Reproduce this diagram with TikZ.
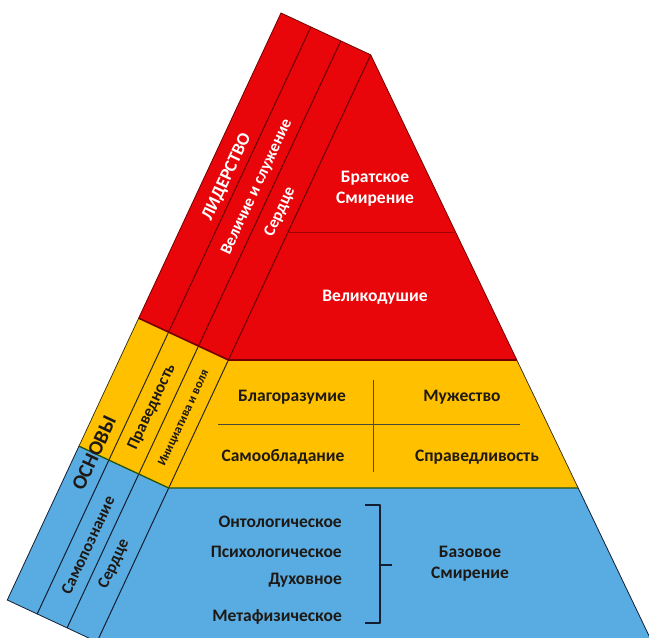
\documentclass[tikz,border=0pt]{standalone}
\usepackage{fontspec}
\setmainfont{Carlito}
\usetikzlibrary{calc}
\definecolor{pred}{RGB}{232,6,10}
\definecolor{pyel}{RGB}{255,192,0}
\definecolor{pblu}{RGB}{88,172,226}
\definecolor{dred}{RGB}{115,0,0}
\definecolor{dline}{RGB}{45,40,20}
\definecolor{dnavy}{RGB}{20,30,50}
\definecolor{txtdark}{RGB}{30,25,20}
\begin{document}
\begin{tikzpicture}[x=1pt,y=1pt,
  mtext/.style={font=\bfseries\fontsize{17.5}{21}\selectfont, inner sep=0pt, align=center},
  wtext/.style={mtext, text=white},
  ktext/.style={mtext, text=txtdark},
  stext/.style={font=\bfseries\fontsize{16.5}{19}\selectfont, inner sep=0pt, rotate=65},
  bigtext/.style={font=\bfseries\fontsize{18}{22}\selectfont, inner sep=0pt, rotate=65},
  redsep/.style={draw=dred, line width=1.1pt},
  darksep/.style={draw=dline, line width=1pt},
  quadline/.style={draw=dline!85, line width=0.9pt},
  bracketline/.style={draw=dnavy, line width=1.8pt, line join=round}]
\useasboundingbox (0,0) rectangle (649,638);
\clip (0,0) rectangle (649,638);
% key points
\coordinate (T0) at (281,625);
\coordinate (T1) at (310.91,611.05);
\coordinate (T2) at (340.82,597.10);
\coordinate (T3) at (370.73,583.15);
\coordinate (P0) at (138.67,319.85);
\coordinate (P1) at (168.58,305.90);
\coordinate (P2) at (198.49,291.95);
\coordinate (P3) at (228.40,278);
\coordinate (Q0) at (78.97,191.85);
\coordinate (Q1) at (108.88,177.90);
\coordinate (Q2) at (138.79,163.95);
\coordinate (Q3) at (168.70,150);
\coordinate (R0) at (7.28,38);
\coordinate (R1) at (37.19,24.05);
\coordinate (R2) at (67.10,10.10);
\coordinate (R3) at (97.01,-3.85);
\coordinate (E1) at (516.8,278);
\coordinate (E2) at (578.2,150);
\coordinate (E3) at (652,-4);
% fills
\fill[pred] (T0) -- (T3) -- (E1) -- (P3) -- (P0) -- cycle;
\fill[pyel] (P0) -- (P3) -- (E1) -- (E2) -- (Q3) -- (Q0) -- cycle;
\fill[pblu] (Q0) -- (Q3) -- (E2) -- (E3) -- (R3) -- (R0) -- cycle;
% outlines
\draw[draw=dred, line width=0.8pt] (P0) -- (T0) -- (T3) -- (E1);
\draw[draw=dline, line width=0.7pt] (E1) -- (E2);
\draw[draw=dnavy, line width=0.8pt] (E2) -- (E3);
\draw[draw=dline, line width=0.7pt] (P0) -- (Q0);
\draw[draw=dnavy, line width=0.8pt] (Q0) -- (R0) -- (R3);
% strip separators
\draw[redsep] (T1) -- (P1) (T2) -- (P2) (T3) -- (P3);
\draw[darksep] (P1) -- (Q1) (P2) -- (Q2) (P3) -- (Q3);
\draw[darksep, draw=dnavy] (Q1) -- (R1) (Q2) -- (R2) (Q3) -- (R3);
% layer boundaries
\draw[draw=dred, line width=1.6pt] (P0) -- (P3) -- (E1);
\draw[draw=dline!80!green, line width=1.3pt] (Q0) -- (Q3) -- (E2);
% red inner divider
\draw[draw=dred!60!pred, line width=0.8pt] (288.1,406) -- (455.6,406);
% yellow quadrant lines
\draw[quadline] (373,258) -- (373,166);
\draw[quadline] (218,214) -- (520,214);
% bracket
\coordinate (bt) at (365,133);
\coordinate (bb) at (365,15);
\coordinate (bm) at (392,73);
\draw[bracketline] (bt) -- (380,133) -- (380,15) -- (bb);
\draw[bracketline] (380,73) -- (bm);
% main texts
\node[wtext] (bratsk) at (375,449) {Братское\\Смирение};
\node[wtext] (velik) at (375,341) {Великодушие};
\node[ktext] (blago) at (292,241) {Благоразумие};
\node[ktext] (muzh) at (462,241) {Мужество};
\node[ktext] (samoob) at (283,181) {Самообладание};
\node[ktext] (sprav) at (477,181) {Справедливость};
\node[ktext, anchor=east] (onto) at (342,116) {Онтологическое};
\node[ktext, anchor=east] (psych) at (342,86) {Психологическое};
\node[ktext, anchor=east] (dukh) at (342,58) {Духовное};
\node[ktext, anchor=east] (meta) at (342,21) {Метафизическое};
\node[ktext] (bazov) at (470,74) {Базовое\\Смирение};
% strip texts
\node[bigtext, text=white] (lider) at (227,461) {ЛИДЕРСТВО};
\node[stext, text=white] (velich) at (257,451) {Величие и служение};
\node[stext, text=white] (serd1) at (280,426) {Сердце};
\node[bigtext, text=txtdark, font=\bfseries\fontsize{20.5}{24}\selectfont] (osnov) at (94,185) {ОСНОВЫ};
\node[stext, text=txtdark] (praved) at (152,231) {Праведность};
\node[stext, text=txtdark, font=\bfseries\fontsize{12.5}{14}\selectfont] (inic) at (184,220) {Инициатива и воля};
\node[stext, text=txtdark] (samop) at (88,93) {Самопознание};
\node[stext, text=txtdark] (serd2) at (114,74) {Сердце};
\end{tikzpicture}
\end{document}
